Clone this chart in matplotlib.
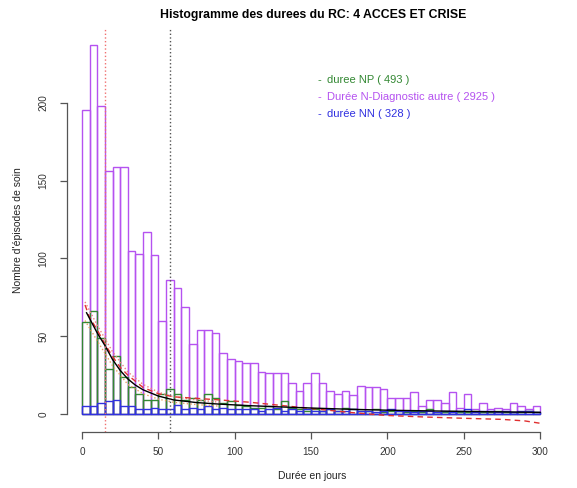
import numpy as np
import matplotlib
matplotlib.use("Agg")
import matplotlib.pyplot as plt

plt.rcParams['font.family'] = ['Liberation Sans', 'DejaVu Sans']

# Counts per 5-day bin, from 0 to 300 days
bin_width = 5
counts_autre = [195, 237, 198, 156, 159, 159, 105, 103, 117, 102,
                60, 86, 81, 69, 45, 54, 54, 52, 39, 35,
                34, 33, 33, 27, 26, 26, 26, 20, 15, 20,
                26, 20, 15, 13, 15, 12, 18, 17, 17, 16,
                10, 10, 10, 14, 5, 9, 9, 7, 14, 4,
                13, 3, 7, 3, 4, 3, 7, 5, 3, 5]
counts_np = [59, 66, 49, 29, 37, 24, 17, 13, 9, 9,
             13, 16, 13, 9, 10, 9, 13, 10, 7, 8,
             6, 5, 4, 4, 5, 3, 8, 4, 3, 2,
             3, 2, 3, 2, 4, 3, 2, 2, 3, 1,
             2, 2, 1, 2, 1, 3, 1, 1, 2, 1,
             1, 2, 1, 1, 2, 1, 1, 1, 2, 1]
counts_nn = [5, 5, 7, 8, 9, 5, 5, 3, 3, 4,
             3, 3, 6, 3, 4, 3, 5, 3, 4, 3,
             3, 3, 3, 2, 3, 4, 2, 3, 2, 3,
             2, 2, 3, 2, 2, 3, 2, 2, 1, 2,
             3, 2, 2, 1, 2, 2, 1, 2, 1, 2,
             3, 1, 2, 2, 1, 2, 1, 2, 2, 1]

# Fitted curves (days, episodes)
fit_days = [3, 10, 15, 20, 25, 30, 35, 40, 50, 60, 75, 90, 110, 130, 150, 175, 200, 250, 300]
fit_black = [65, 52, 44, 35, 28, 22.5, 18.5, 15.5, 11.5, 9, 7.3, 6.3, 5.3, 4.5, 3.8, 3.0, 2.4, 1.6, 1.0]

smooth_days = [2, 5, 10, 15, 20, 25, 30, 40, 50, 60, 75, 90, 110, 130, 150, 175, 200, 225, 250, 275, 290, 300]
smooth_red = [70, 62, 54, 45, 37, 30, 25, 17, 13, 11, 10, 9, 7.5, 5.5, 3.5, 1, -1, -2, -2.8, -3.5, -4.5, -6]

band_days = [2, 10, 20, 30, 40, 50, 60, 75, 90]
band_upper = [72, 57, 40, 27, 19, 14, 11, 9, 7.5]
band_lower = [60, 47, 31, 19, 13, 9.5, 7.5, 6, 5]

median_np = 15.3
median_autre = 57.6

labels = ["duree NP ( 493 )", "Durée N-Diagnostic autre ( 2925 )", "durée NN ( 328 )"]
col_np = "#338833"
col_autre = "#b552f0"
col_nn = "#3030e0"

fig = plt.figure(figsize=(5.77, 4.88), dpi=100)
ax = fig.add_axes([0.1156, 0.1148, 0.8515, 0.8278])

left = np.arange(len(counts_autre)) * bin_width
ax.bar(left, counts_autre, width=bin_width, align='edge', fill=False,
       edgecolor=col_autre, linewidth=1.0)
ax.bar(left, counts_np, width=bin_width, align='edge', fill=False,
       edgecolor=col_np, linewidth=1.0)
ax.bar(left, counts_nn, width=bin_width, align='edge', fill=False,
       edgecolor=col_nn, linewidth=1.0)

ax.plot(band_days, band_upper, color="#f08080", linestyle=':', linewidth=1.0)
ax.plot(band_days, band_lower, color="#e8a060", linestyle=':', linewidth=1.0)
ax.plot(smooth_days, smooth_red, color="#e03030", linestyle=(0, (4, 3)), linewidth=1.0)
ax.plot(fit_days, fit_black, color="black", linewidth=1.0)

ax.axvline(median_np, color="#f07070", linestyle=':', linewidth=1.0)
ax.axvline(median_autre, color="#555555", linestyle=':', linewidth=1.0)

ax.set_xlim(-10, 311.7)
ax.set_ylim(-11.6, 248)

for side in ['top', 'right']:
    ax.spines[side].set_visible(False)
ax.spines['bottom'].set_bounds(0, 300)
ax.spines['left'].set_bounds(0, 200)
for side in ['bottom', 'left']:
    ax.spines[side].set_color("#555555")
    ax.spines[side].set_linewidth(0.9)

ax.set_xticks([0, 50, 100, 150, 200, 250, 300])
ax.set_yticks([0, 50, 100, 150, 200])
ax.tick_params(axis='x', length=5, width=0.9, color="#555555", labelsize=7.2,
               labelcolor="#333333", pad=6)
ax.tick_params(axis='y', length=5, width=0.9, color="#555555", labelsize=7.2,
               labelcolor="#333333", pad=8)
for lab in ax.get_yticklabels():
    lab.set_rotation(90)
    lab.set_verticalalignment('center')

ax.set_xlabel("Durée en jours", fontsize=7.5, color="#222222", labelpad=10)
ax.set_ylabel("Nombre d'épisodes de soin", fontsize=7.5, color="#222222", labelpad=11)

fig.text(0.543, 0.97, "Histogramme des durees du RC: 4 ACCES ET CRISE",
         ha='center', va='center', fontsize=8.8, fontweight='bold')

for i, (lab, col) in enumerate(zip(labels, [col_np, col_autre, col_nn])):
    y = 1 - (80 + i * 17) / 488
    fig.text(318 / 577, y, "-", color=col, fontsize=8, va='center')
    fig.text(327 / 577, y, lab, color=col, fontsize=8, va='center')

fig.savefig("out.png", dpi=100)
